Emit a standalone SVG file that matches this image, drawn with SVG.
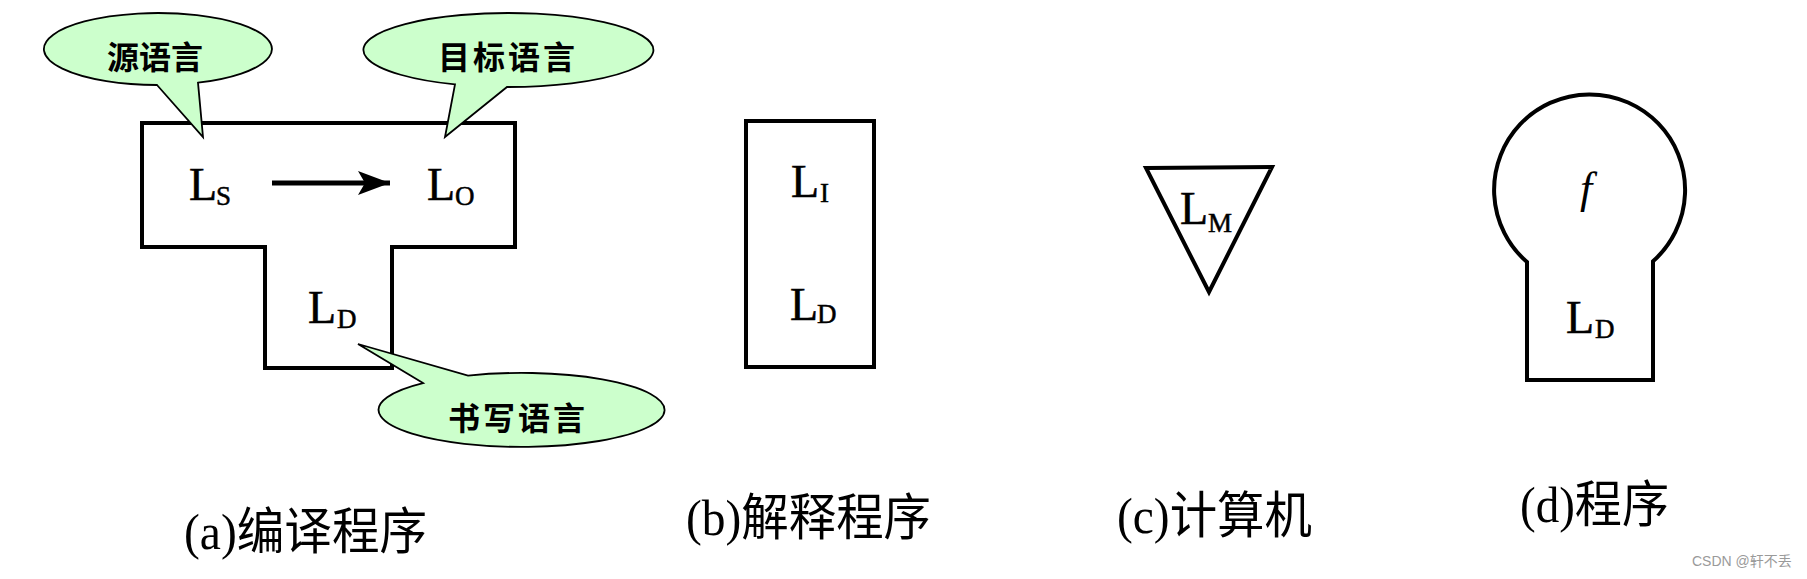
<svg xmlns="http://www.w3.org/2000/svg" width="1807" height="579" viewBox="0 0 1807 579">
  <style>
    .shape { fill: #ffffff; stroke: #000000; stroke-width: 4; stroke-linejoin: miter; }
    .callout { fill: #ccffcc; stroke: #000000; stroke-width: 1.8; stroke-linejoin: miter; }
    .ctext { font-family: "Noto Sans CJK SC", sans-serif; font-weight: 700; font-size: 32px; fill: #000; text-anchor: middle; }
    .big { font-family: "Liberation Serif", serif; font-size: 46px; fill: #000; stroke: #000; stroke-width: 0.5; }
    .sub { font-family: "Liberation Serif", serif; font-size: 27px; fill: #000; stroke: #000; stroke-width: 0.5; }
    .fn { font-family: "Liberation Serif", serif; font-style: italic; font-size: 44px; fill: #000; }
    .cap { font-family: "Liberation Serif", "Noto Sans CJK SC", serif; font-size: 50px; fill: #000; }
    .wm { font-family: "Liberation Sans", "Noto Sans CJK SC", sans-serif; font-size: 14px; fill: #9a9a9a; }
  </style>
  <defs>
    <marker id="arrowhead" markerUnits="userSpaceOnUse" markerWidth="34" markerHeight="26" refX="32" refY="12" orient="auto">
      <path d="M0,0 L32,12 L0,24 L7,12 Z" fill="#000"/>
    </marker>
  </defs>
  <rect width="1807" height="579" fill="#ffffff"/>

  <!-- (a) compiler T diagram -->
  <g id="node-compiler">
    <path class="shape" d="M142,123 H515 V247 H392 V368 H265 V247 H142 Z"/>
    <text class="big" x="189" y="200">L</text><text class="sub" x="216" y="205">S</text>
    <text class="big" x="427" y="200">L</text><text class="sub" x="455" y="205">O</text>
    <text class="big" x="308" y="323">L</text><text class="sub" x="337" y="328">D</text>
  </g>

  <g id="connectors">
    <line x1="272" y1="183" x2="390" y2="183" stroke="#000" stroke-width="5" marker-end="url(#arrowhead)"/>
  </g>

  <g id="callout-source">
    <path class="callout" d="M157,85 L203,137 L198,82.7 A114 36 0 1 0 157,85 Z"/>
    <text class="ctext" x="155" y="69">源语言</text>
  </g>
  <g id="callout-target">
    <path class="callout" d="M455,84.4 L445,137 L507,87 A145 37 0 1 0 455,84.4 Z"/>
    <text class="ctext" x="508" y="69" letter-spacing="3">目标语言</text>
  </g>
  <g id="callout-writing">
    <path class="callout" d="M423,383.1 L358,344 L468,375.6 A143 37 0 1 1 423,383.1 Z"/>
    <text class="ctext" x="518" y="430" letter-spacing="3">书写语言</text>
  </g>

  <!-- (b) interpreter -->
  <g id="node-interpreter">
    <rect class="shape" x="746" y="121" width="128" height="246"/>
    <text class="big" x="791" y="197">L</text><text class="sub" x="820" y="202">I</text>
    <text class="big" x="790" y="320">L</text><text class="sub" x="817" y="323">D</text>
  </g>

  <!-- (c) machine -->
  <g id="node-machine">
    <path class="shape" stroke-width="3.5" d="M1146,168 L1272,167 L1209,292 Z"/>
    <text class="big" x="1180" y="224">L</text><text class="sub" x="1208" y="232">M</text>
  </g>

  <!-- (d) program -->
  <g id="node-program">
    <path class="shape" stroke-width="3.5" d="M1527,380 V262 A95.5 95.5 0 1 1 1653,261.3 V380 Z"/>
    <text class="fn" x="1580" y="203">f</text>
    <text class="big" x="1566" y="333">L</text><text class="sub" x="1595" y="338">D</text>
  </g>

  <g id="captions">
    <text class="cap" x="184" y="549" textLength="243" lengthAdjust="spacingAndGlyphs">(a)编译程序</text>
    <text class="cap" x="686" y="535" textLength="245" lengthAdjust="spacingAndGlyphs">(b)解释程序</text>
    <text class="cap" x="1117" y="533" textLength="195" lengthAdjust="spacingAndGlyphs">(c)计算机</text>
    <text class="cap" x="1520" y="522" textLength="149" lengthAdjust="spacingAndGlyphs">(d)程序</text>
  </g>

  <text class="wm" x="1692" y="566">CSDN @轩不丢</text>
</svg>
